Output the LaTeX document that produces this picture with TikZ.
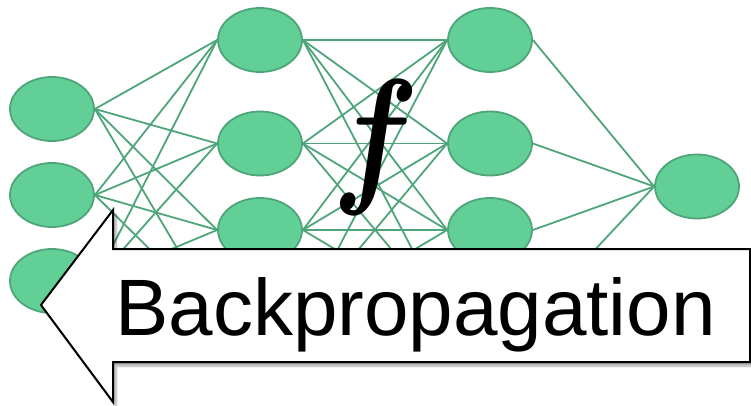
\documentclass[tikz,border=0pt]{standalone}
\usepackage{graphicx}
\usepackage{fontspec}
\setmainfont{Liberation Sans}
\usetikzlibrary{
shapes.geometric,
shadows,
shadows.blur,
positioning
}
\definecolor{nfill}{RGB}{98,208,150}
\definecolor{nline}{RGB}{78,165,122}
\tikzset{>=latex}

\begin{document}
\begin{tikzpicture}[x=1pt, y=-1pt,
	neuron/.style={ellipse, draw=nline, fill=nfill, line width=1.8pt, inner sep=0pt, minimum width=84pt, minimum height=64pt},
	link/.style={draw=nline, line width=1.8pt}]
	\useasboundingbox (0,0) rectangle (751,406);

	% layers
	\foreach \y [count=\i] in {109,195,281}
		\node[neuron] (in\i) at (52,\y) {};
	\foreach \y [count=\i] in {40,143.5,230,316}
		\node[neuron] (ha\i) at (260,\y) {};
	\foreach \y [count=\i] in {40,143.5,230,316}
		\node[neuron] (hb\i) at (490,\y) {};
	\node[neuron] (out) at (697,186.5) {};

	% weights
	\foreach \i in {1,2,3}
		\foreach \j in {1,...,4}
			\draw[link] (in\i.east) -- (ha\j.west);
	\foreach \i in {1,...,4}
		\foreach \j in {1,...,4}
			\draw[link] (ha\i.east) -- (hb\j.west);
	\foreach \i in {1,...,4}
		\draw[link] (hb\i.east) -- (out.west);

	\node[inner sep=0pt] (func) at (376,147.5) {\scalebox{12.8}[15.2]{\mathversion{bold}$f$}};

	% arrow pointing back
	\coordinate (tip) at (41,305);
	\draw[line width=2pt, fill=white, line join=miter,
		blur shadow={shadow xshift=3pt, shadow yshift=-4pt, shadow blur steps=8, shadow opacity=35}]
		(tip) -- (113,210) -- (113,249) -- (750,249) -- (750,362)
		-- (113,362) -- (113,402) -- cycle;
	\node[anchor=base west, inner sep=0pt, font=\fontsize{80}{80}\selectfont] (bp) at (115,335) {Backpropagation};
\end{tikzpicture}
\end{document}
